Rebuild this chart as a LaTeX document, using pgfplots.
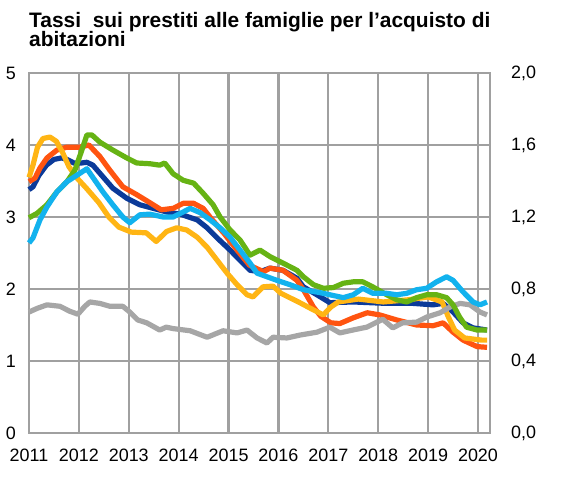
\documentclass[border=0pt]{standalone}
\usepackage{fontspec}
\setmainfont{Liberation Sans}
\usepackage{pgfplots}
\pgfplotsset{compat=1.18}
\definecolor{cnavy}{HTML}{0B3A99}
\definecolor{corange}{HTML}{FF5410}
\definecolor{cyellow}{HTML}{FFB514}
\definecolor{cgreen}{HTML}{66B314}
\definecolor{clblue}{HTML}{12B2EE}
\definecolor{cgray}{HTML}{A6A6A6}
\definecolor{gridc}{RGB}{160,160,160}
\begin{document}
\begin{tikzpicture}
\path[use as bounding box] (0,0) rectangle (579bp,491bp);
\node[anchor=base west, inner sep=0pt, font=\bfseries\fontsize{21}{23}\selectfont] at (29bp,463bp) {Tassi\ \ sui prestiti alle famiglie per l'acquisto di};
\node[anchor=base west, inner sep=0pt, font=\bfseries\fontsize{21}{23}\selectfont] at (29bp,444bp) {abitazioni};
\begin{axis}[
  at={(29bp,58bp)}, anchor=south west,
  scale only axis, width=461bp, height=360bp,
  xmin=2011, xmax=2020.24, ymin=0, ymax=5,
  xtick={2011,2012,...,2020},
  xticklabels={2011,2012,2013,2014,2015,2016,2017,2018,2019,2020},
  ytick={0,1,2,3,4,5},
  major tick length=0pt,
  xmajorgrids=true, ymajorgrids=true,
  major grid style={gridc, line width=2.2bp},
  axis line style={gridc, line width=2.2bp},
  tick label style={font=\fontsize{18}{20}\selectfont},
  /pgf/number format/assume math mode=true,
  yticklabel style={inner sep=0pt, xshift=-13bp},
  xticklabel style={inner sep=0pt, yshift=-16bp},
  clip=false,
]
\draw[gridc, line width=2.2bp] (axis cs:2011,1) -- (axis cs:2020.24,1);
\draw[gridc, line width=2.2bp] (axis cs:2011,2) -- (axis cs:2020.24,2);
\draw[gridc, line width=2.2bp] (axis cs:2011,3) -- (axis cs:2020.24,3);
\draw[gridc, line width=2.2bp] (axis cs:2011,4) -- (axis cs:2020.24,4);
\draw[gridc, line width=2.2bp] (axis cs:2011,0) rectangle (axis cs:2020.24,5);
\addplot[cnavy, line width=5.2bp, line join=round] coordinates {(2011.0,3.38) (2011.08,3.42) (2011.2,3.58) (2011.35,3.72) (2011.5,3.8) (2011.65,3.82) (2011.76,3.8) (2011.9,3.75) (2012.05,3.75) (2012.16,3.76) (2012.28,3.72) (2012.48,3.56) (2012.68,3.4) (2012.96,3.26) (2013.22,3.17) (2013.49,3.12) (2013.76,3.07) (2014.03,3.04) (2014.37,2.96) (2014.57,2.85) (2014.77,2.71) (2015.03,2.54) (2015.23,2.4) (2015.43,2.26) (2015.63,2.24) (2015.83,2.29) (2016.09,2.26) (2016.37,2.15) (2016.5,2.03) (2016.77,1.92) (2017.03,1.81) (2017.5,1.82) (2018.17,1.8) (2018.7,1.8) (2019.1,1.78) (2019.3,1.8) (2019.5,1.68) (2019.7,1.53) (2019.9,1.46) (2020.18,1.43)};
\addplot[corange, line width=5.2bp, line join=round] coordinates {(2011.0,3.49) (2011.12,3.54) (2011.22,3.68) (2011.36,3.82) (2011.56,3.93) (2011.76,3.97) (2012.02,3.97) (2012.2,4.0) (2012.42,3.84) (2012.62,3.65) (2012.88,3.42) (2013.16,3.31) (2013.42,3.2) (2013.65,3.1) (2013.89,3.12) (2014.09,3.19) (2014.3,3.19) (2014.49,3.12) (2014.65,2.98) (2014.9,2.78) (2015.17,2.54) (2015.42,2.33) (2015.7,2.24) (2015.83,2.29) (2016.09,2.26) (2016.37,2.12) (2016.5,1.99) (2016.7,1.75) (2016.85,1.62) (2017.05,1.53) (2017.23,1.52) (2017.5,1.6) (2017.78,1.67) (2018.03,1.64) (2018.37,1.57) (2018.77,1.5) (2019.1,1.49) (2019.3,1.53) (2019.5,1.4) (2019.7,1.29) (2019.98,1.2) (2020.18,1.19)};
\addplot[cyellow, line width=5.2bp, line join=round] coordinates {(2011.0,3.55) (2011.08,3.72) (2011.17,3.97) (2011.28,4.09) (2011.42,4.11) (2011.55,4.05) (2011.67,3.9) (2011.8,3.7) (2011.95,3.55) (2012.15,3.4) (2012.4,3.2) (2012.6,3.0) (2012.8,2.86) (2013.05,2.79) (2013.35,2.78) (2013.55,2.66) (2013.76,2.8) (2013.96,2.85) (2014.16,2.82) (2014.37,2.72) (2014.57,2.58) (2014.77,2.4) (2014.97,2.22) (2015.17,2.06) (2015.37,1.92) (2015.49,1.89) (2015.69,2.03) (2015.89,2.04) (2016.05,1.94) (2016.4,1.82) (2016.7,1.71) (2016.9,1.64) (2017.05,1.75) (2017.2,1.82) (2017.6,1.86) (2018.1,1.82) (2018.6,1.85) (2019.0,1.89) (2019.28,1.82) (2019.4,1.62) (2019.53,1.43) (2019.73,1.32) (2020.07,1.29) (2020.18,1.29)};
\addplot[cgray, line width=5.2bp, line join=round] coordinates {(2011.0,1.68) (2011.16,1.73) (2011.36,1.78) (2011.62,1.76) (2011.82,1.69) (2011.98,1.65) (2012.12,1.76) (2012.22,1.82) (2012.42,1.8) (2012.62,1.76) (2012.88,1.76) (2013.02,1.68) (2013.18,1.57) (2013.36,1.53) (2013.62,1.43) (2013.75,1.47) (2013.89,1.45) (2014.23,1.42) (2014.57,1.33) (2014.89,1.42) (2015.17,1.39) (2015.37,1.43) (2015.57,1.32) (2015.77,1.25) (2015.89,1.33) (2016.17,1.32) (2016.43,1.36) (2016.77,1.4) (2017.03,1.47) (2017.23,1.39) (2017.49,1.43) (2017.77,1.47) (2018.09,1.58) (2018.29,1.46) (2018.49,1.53) (2018.77,1.54) (2018.97,1.61) (2019.24,1.67) (2019.44,1.75) (2019.64,1.8) (2019.84,1.78) (2020.04,1.68) (2020.18,1.64)};
\addplot[cgreen, line width=5.2bp, line join=round] coordinates {(2011.0,2.99) (2011.16,3.05) (2011.36,3.17) (2011.56,3.35) (2011.76,3.49) (2011.92,3.65) (2012.06,3.93) (2012.16,4.14) (2012.26,4.14) (2012.42,4.04) (2012.68,3.93) (2012.96,3.82) (2013.16,3.75) (2013.42,3.74) (2013.62,3.72) (2013.72,3.75) (2013.89,3.6) (2014.09,3.51) (2014.3,3.47) (2014.49,3.33) (2014.69,3.17) (2014.83,3.0) (2015.03,2.82) (2015.23,2.68) (2015.43,2.47) (2015.63,2.54) (2015.83,2.45) (2016.09,2.36) (2016.37,2.26) (2016.5,2.17) (2016.7,2.06) (2016.9,2.01) (2017.1,2.02) (2017.3,2.08) (2017.5,2.1) (2017.69,2.1) (2017.89,2.03) (2018.17,1.92) (2018.37,1.85) (2018.57,1.82) (2018.77,1.88) (2018.97,1.92) (2019.17,1.92) (2019.37,1.88) (2019.5,1.78) (2019.63,1.61) (2019.77,1.47) (2019.98,1.43) (2020.18,1.43)};
\addplot[clblue, line width=5.2bp, line join=round] coordinates {(2011.0,2.64) (2011.08,2.71) (2011.22,2.96) (2011.36,3.14) (2011.56,3.35) (2011.76,3.49) (2011.96,3.58) (2012.16,3.67) (2012.28,3.55) (2012.48,3.35) (2012.68,3.17) (2012.88,3.0) (2013.02,2.92) (2013.22,3.03) (2013.42,3.04) (2013.69,3.0) (2013.89,3.0) (2014.09,3.07) (2014.23,3.12) (2014.43,3.06) (2014.63,2.96) (2014.83,2.85) (2015.03,2.72) (2015.23,2.54) (2015.43,2.36) (2015.57,2.22) (2015.77,2.17) (2015.97,2.12) (2016.23,2.06) (2016.5,1.99) (2016.83,1.95) (2017.03,1.92) (2017.3,1.88) (2017.5,1.92) (2017.69,2.01) (2017.89,1.94) (2018.17,1.94) (2018.37,1.92) (2018.57,1.94) (2018.77,1.99) (2018.97,2.01) (2019.17,2.1) (2019.37,2.17) (2019.5,2.12) (2019.7,1.96) (2019.9,1.82) (2020.04,1.78) (2020.18,1.82)};
\end{axis}
\begin{axis}[
  at={(29bp,58bp)}, anchor=south west,
  scale only axis, width=461bp, height=360bp,
  xmin=2011, xmax=2020.24, ymin=0, ymax=2,
  axis x line=none,
  axis y line*=right,
  axis line style={draw=none},
  ytick={0,0.4,0.8,1.2,1.6,2.0},
  yticklabels={{0,0},{0,4},{0,8},{1,2},{1,6},{2,0}},
  major tick length=0pt,
  tick label style={font=\fontsize{18}{20}\selectfont},
  yticklabel style={inner sep=0pt, anchor=west, xshift=21bp},
]
\addplot[draw=none] coordinates {(2011,0) (2020,2)};
\end{axis}
\end{tikzpicture}
\end{document}
